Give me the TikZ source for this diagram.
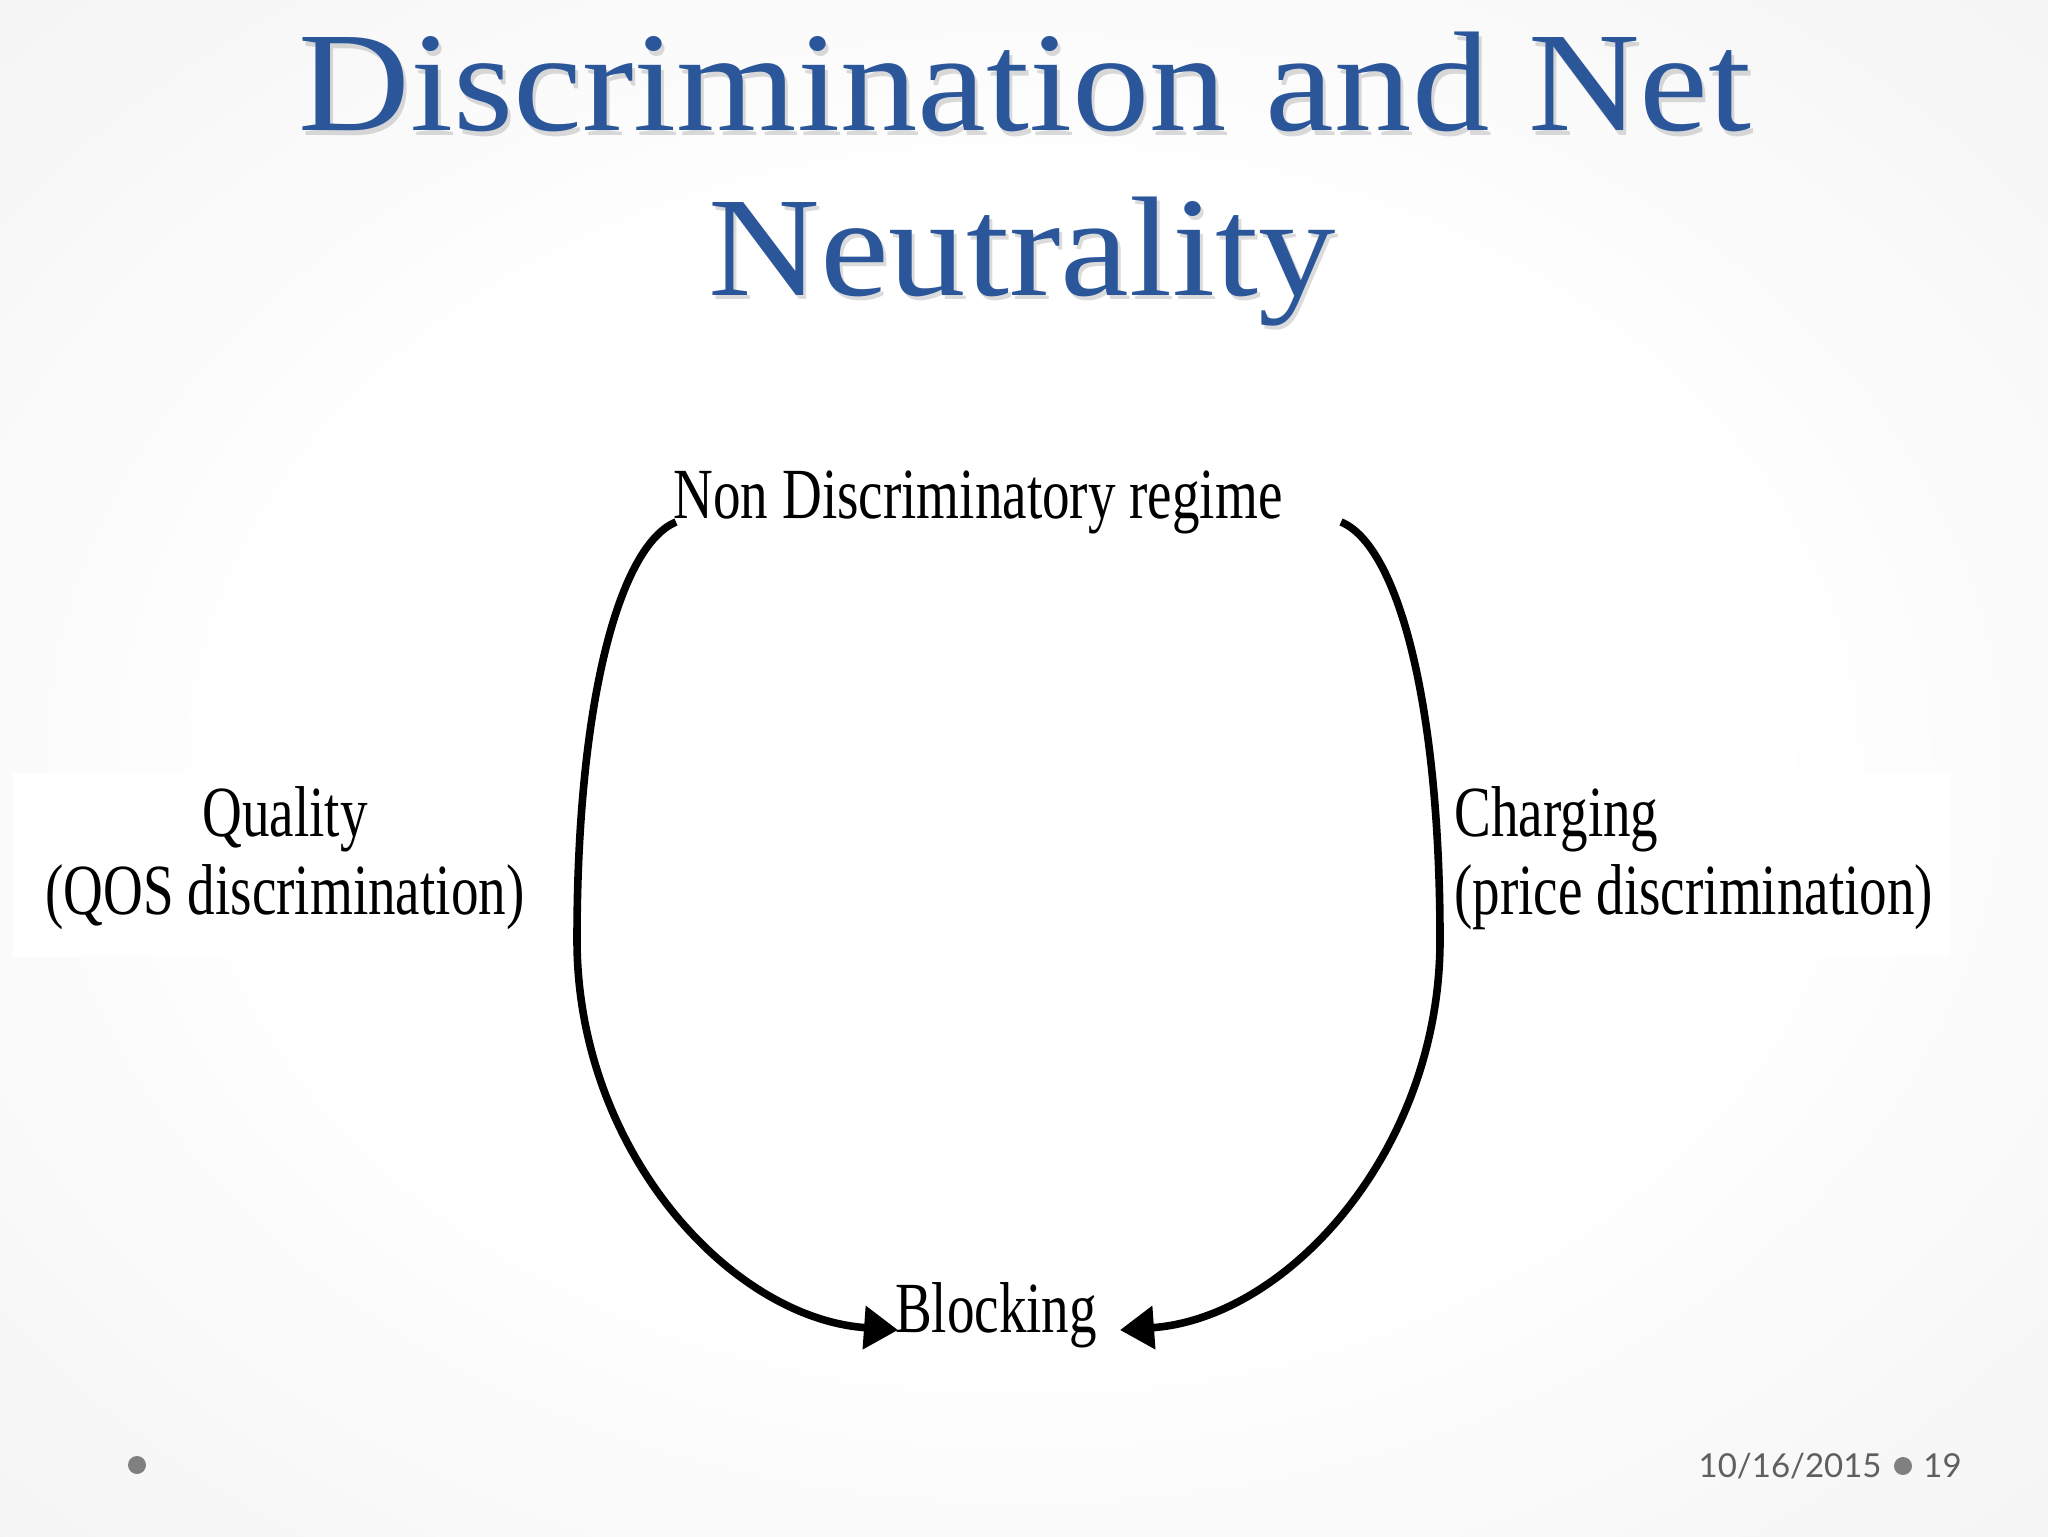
\documentclass[tikz,border=0pt]{standalone}
\usepackage{fontspec}
\setmainfont{Liberation Serif}
\newfontfamily\titlefont[FakeStretch=1.09]{Liberation Serif}
\newfontfamily\labelfont[FakeStretch=0.765]{Liberation Serif}
\newfontfamily\footfont{Lato}
\usetikzlibrary{arrows.meta}
\definecolor{titleblue}{RGB}{43,87,154}
\definecolor{footgray}{RGB}{95,95,95}
\definecolor{dotgray}{RGB}{128,128,128}
\pgfdeclareradialshading{slidebg}{\pgfpoint{0bp}{0bp}}{%
  color(0bp)=(white); color(18bp)=(white); color(35bp)=(black!4);
  color(50bp)=(black!10); color(70bp)=(black!14); color(100bp)=(black!14)}
\tikzset{
  titletext/.style={anchor=base,inner sep=0pt,text=titleblue,font=\titlefont\fontsize{71}{80}\selectfont},
  titleshadow/.style={anchor=base,inner sep=0pt,text=black,opacity=0.14,font=\titlefont\fontsize{71}{80}\selectfont},
  lbl/.style={anchor=base,inner sep=0pt,text=black,font=\labelfont\fontsize{36}{39}\selectfont},
  whitebox/.style={fill=white,draw=none},
  flow/.style={line width=3.8pt,draw=black,-{Triangle[length=17pt,width=21pt]}},
  foot/.style={anchor=base,inner sep=0pt,text=footgray,font=\footfont\fontsize{16.5}{18}\selectfont},
  fdot/.style={fill=dotgray,draw=none}
}
\begin{document}
\begin{tikzpicture}[x=0.5pt,y=-0.5pt]
\useasboundingbox (0,0) rectangle (2048,1536);
\shade[shading=slidebg] (0,0) rectangle (2048,1536);
% white label boxes
\fill[whitebox] (13,773) rectangle (546,957);
\fill[whitebox] (1436,773) rectangle (1950,957);
% title
\node[titleshadow] at (1028,135) {Discrimination and Net};
\node[titleshadow] at (1025,299) {Neutrality};
\node[titletext] (t1) at (1025,131) {Discrimination and Net};
\node[titletext] (t2) at (1022,295) {Neutrality};
% labels
\node[lbl] (nd) at (978,518) {Non Discriminatory regime};
\node[lbl] (blk) at (996,1332) {Blocking};
\node[lbl] (q1) at (285,836) {Quality};
\node[lbl] (q2) at (285,914) {(QOS discrimination)};
\node[lbl,anchor=base west] (c1) at (1454,836) {Charging};
\node[lbl,anchor=base west] (c2) at (1454,914) {(price discrimination)};
% connector end points
\coordinate (ls) at (676,522);
\coordinate (lm) at (577,940);
\coordinate (lt) at (898,1330);
\coordinate (rs) at (1341,522);
\coordinate (rm) at (1440,940);
\coordinate (rt) at (1120,1330);
\draw[flow] (ls) .. controls (620,545) and (577,700) .. (lm)
            .. controls (577,1150) and (730,1318) .. (lt);
\draw[flow] (rs) .. controls (1397,545) and (1440,700) .. (rm)
            .. controls (1440,1150) and (1288,1318) .. (rt);
% footer
\fill[fdot] (137,1465) circle (9);
\node[foot,anchor=base east] (date) at (1882,1477) {10/16/2015};
\fill[fdot] (1903,1466) circle (9);
\node[foot,anchor=base west] (pg) at (1923,1477) {19};
\end{tikzpicture}
\end{document}
